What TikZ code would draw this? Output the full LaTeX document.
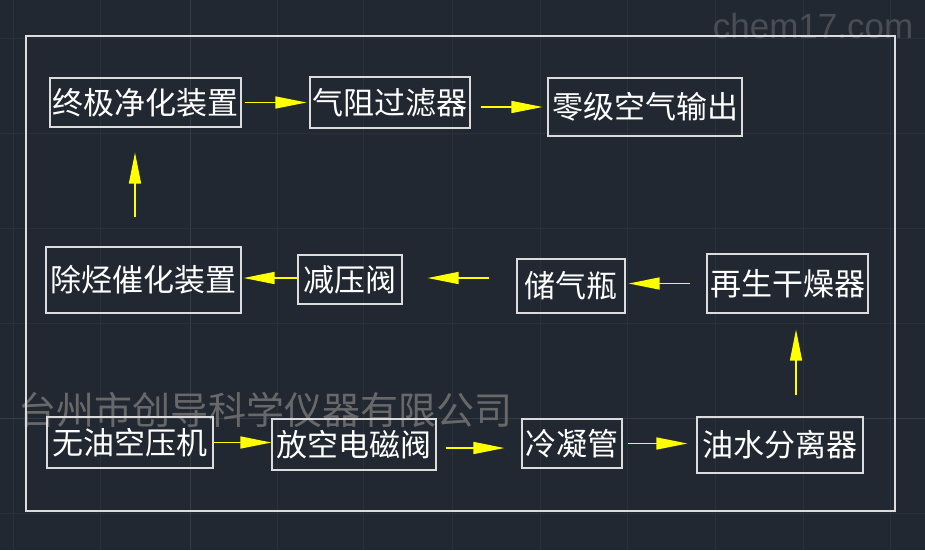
\documentclass[tikz,border=0pt]{standalone}
\usepackage{fontspec}
\newfontfamily\cjk{Noto Sans CJK SC}
\newfontfamily\wmfont{Liberation Sans}
\usetikzlibrary{arrows.meta}
\definecolor{bgc}{RGB}{34,40,49}
\definecolor{gridminor}{RGB}{42,49,59}
\definecolor{gridmajor}{RGB}{52,60,72}
\definecolor{boxc}{RGB}{220,220,220}
\definecolor{arrowc}{RGB}{255,255,0}
\definecolor{wmc}{RGB}{112,112,112}
\definecolor{wmc2}{RGB}{74,78,84}
\tikzset{
  stepbox/.style={draw=boxc, line width=1.2pt, inner sep=0pt, text=white,
    font=\cjk\fontsize{31}{34}\selectfont},
  flow/.style={draw=arrowc, line width=1.3pt, -{Triangle[length=31pt,width=12pt]}, arrowc},
}
\begin{document}
\begin{tikzpicture}[x=1pt,y=-1pt]
\useasboundingbox (0,0) rectangle (925,550);
\fill[bgc] (0,0) rectangle (925,550);
% grid
\foreach \gx in {13,100,277,363,452,540,627,715,803,890}
  \draw[gridminor, line width=0.8pt] (\gx,0) -- (\gx,550);
\foreach \gy in {38,133,228,323,513}
  \draw[gridminor, line width=0.8pt] (0,\gy) -- (925,\gy);
\draw[gridmajor, line width=0.9pt] (190,0) -- (190,550);
\draw[gridmajor, line width=0.9pt] (0,418) -- (925,418);
% watermarks
\node[text=wmc2, font=\wmfont\fontsize{35}{37}\selectfont, anchor=center] (wm1) at (813,26) {chem17.com};
\node[text=wmc, opacity=0.9, font=\cjk\fontsize{38}{40}\selectfont, anchor=center] (wm2) at (265,410) {台州市创导科学仪器有限公司};
% outer frame
\draw[boxc, line width=1.2pt] (26,36) rectangle (895,511);
% boxes
\node[stepbox, minimum width=191pt, minimum height=49pt] (zj) at (145.5,102.5) {终极净化装置};
\node[stepbox, minimum width=160pt, minimum height=51pt] (qz) at (390,102.5) {气阻过滤器};
\node[stepbox, minimum width=194pt, minimum height=58pt] (lj) at (645,107) {零级空气输出};
\node[stepbox, minimum width=195pt, minimum height=66pt] (cq) at (143.5,280) {除烃催化装置};
\node[stepbox, minimum width=104pt, minimum height=49pt] (jy) at (350,279.5) {减压阀};
\node[stepbox, minimum width=108pt, minimum height=54pt] (cqp) at (571,286) {储气瓶};
\node[stepbox, minimum width=161pt, minimum height=59pt] (zs) at (787.5,283.5) {再生干燥器};
\node[stepbox, minimum width=166pt, minimum height=51pt] (wy) at (130,442.5) {无油空压机};
\node[stepbox, minimum width=164pt, minimum height=51pt] (fk) at (354,444.5) {放空电磁阀};
\node[stepbox, minimum width=100pt, minimum height=49pt] (ln) at (572,443.5) {冷凝管};
\node[stepbox, minimum width=166pt, minimum height=56pt] (ys) at (780,445) {油水分离器};
% connectors
\draw[flow, shorten <=3pt, shorten >=3pt] (zj.east) -- (qz.west);
\draw[flow, shorten <=10pt, shorten >=5pt] (qz.east |- lj.west) -- (lj.west);
\draw[flow, shorten <=29pt, shorten >=25pt] ([xshift=-8.5pt]cq.north) -- ([xshift=-8.5pt]cq.north |- zj.south);
\draw[flow, shorten <=0pt, shorten >=2pt] ([yshift=1.5pt]jy.west) -- ([yshift=1.5pt]jy.west -| cq.east);
\draw[flow, shorten <=27pt, shorten >=25pt] ([yshift=1.5pt]cqp.west |- jy.east) -- ([yshift=1.5pt]jy.east);
\draw[flow, shorten <=16pt, shorten >=3pt] (zs.west) -- (zs.west -| cqp.east);
\draw[flow, shorten <=21pt, shorten >=16pt] ([xshift=8.5pt]zs.south |- ys.north) -- ([xshift=8.5pt]zs.south);
\draw[flow, shorten <=0pt, shorten >=0pt] (wy.east) -- (wy.east -| fk.west);
\draw[flow, shorten <=9pt, shorten >=17pt] ([yshift=-3.5pt]fk.east) -- ([yshift=-3.5pt]fk.east -| ln.west);
\draw[flow, shorten <=5pt, shorten >=9pt] (ln.east) -- (ln.east -| ys.west);
\end{tikzpicture}
\end{document}
